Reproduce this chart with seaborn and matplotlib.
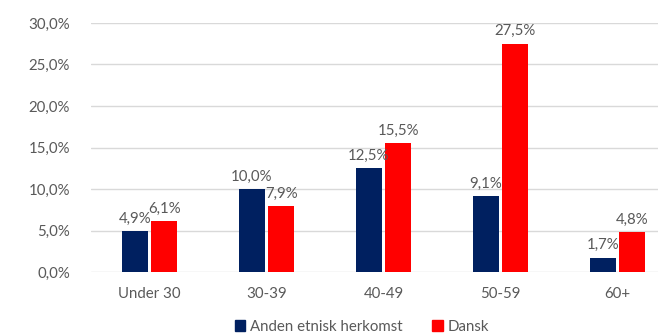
import matplotlib
matplotlib.use("Agg")
import matplotlib.pyplot as plt
import seaborn as sns
import pandas as pd
from matplotlib.ticker import FuncFormatter

# data
categories = ["Under 30", "30-39", "40-49", "50-59", "60+"]
anden = [4.9, 10.0, 12.5, 9.1, 1.7]
dansk = [6.1, 7.9, 15.5, 27.5, 4.8]
series_names = ["Anden etnisk herkomst", "Dansk"]

df = pd.DataFrame({
    "alder": categories * 2,
    "andel": anden + dansk,
    "gruppe": [series_names[0]] * 5 + [series_names[1]] * 5,
})

sns.set_style("white")
plt.rcParams["font.family"] = ["Lato", "DejaVu Sans"]

fig = plt.figure(figsize=(6.58, 3.36), dpi=100)
ax = fig.add_axes([91 / 658, 64 / 336, 585 / 658, 249 / 336])

sns.barplot(data=df, x="alder", y="andel", hue="gruppe", ax=ax,
            palette=["#002060", "#FF0000"], saturation=1, width=0.5, gap=0.11,
            linewidth=0, legend=False)

grey = "#595959"
fs = 10.8
ax.set_ylim(0, 30)
ax.set_yticks(range(0, 31, 5))
ax.yaxis.set_major_formatter(FuncFormatter(lambda v, p: f"{v:.1f}%".replace(".", ",")))
ax.grid(axis="y", color="#d9d9d9", linewidth=1)
ax.set_axisbelow(True)
for s in ax.spines.values():
    s.set_visible(False)
ax.tick_params(length=0, labelsize=fs, colors=grey)
ax.tick_params(axis="y", pad=15)
ax.tick_params(axis="x", pad=11)
ax.set_xlabel("")
ax.set_ylabel("")

for cont in ax.containers:
    ax.bar_label(cont, labels=[f"{v:.1f}%".replace(".", ",") for v in cont.datavalues],
                 padding=4, fontsize=fs, color=grey)

handles = [plt.Rectangle((0, 0), 1, 1, color=c) for c in ["#002060", "#FF0000"]]
fig.legend(handles, series_names, loc="center", bbox_to_anchor=(0.55, 0.028),
           ncol=2, frameon=False, fontsize=fs, labelcolor=grey,
           handlelength=0.7, handleheight=0.7, handletextpad=0.3, columnspacing=2.0,
           borderpad=0, borderaxespad=0)

fig.savefig("out.png", dpi=100)
